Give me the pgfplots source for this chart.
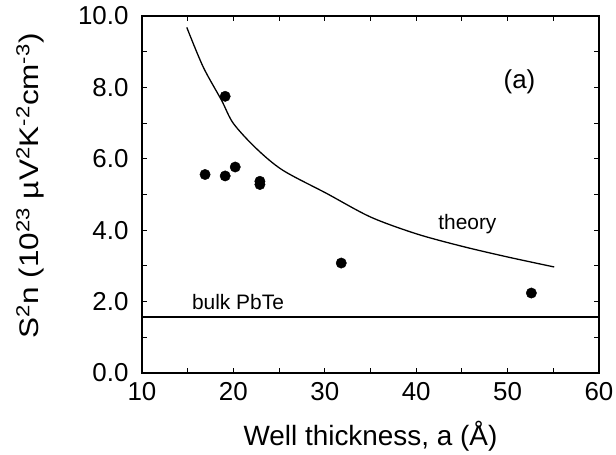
\documentclass[border=0pt]{standalone}
\usepackage{fontspec}
\setmainfont{Liberation Sans}
\usepackage{graphicx}
\usepackage{pgfplots}
\pgfplotsset{compat=1.18}

\begin{document}
\begin{tikzpicture}
\begin{axis}[
    scale only axis,
    width=457bp, height=357bp,
    xmin=10, xmax=60, ymin=0, ymax=10,
    xtick={10,20,...,60}, ytick={0,2,...,10},
    minor x tick num=1, minor y tick num=1,
    tick align=inside,
    major tick length=5bp, minor tick length=5bp,
    every tick/.style={black, line width=1.2pt},
    axis line style={line width=1.4pt},
    /pgf/number format/assume math mode=true,
    tick label style={font=\fontsize{26}{28}\selectfont},
    yticklabel style={/pgf/number format/fixed, /pgf/number format/fixed zerofill,
        /pgf/number format/precision=1, xshift=-10bp},
    xticklabel style={yshift=-6bp},
    xlabel style={font=\fontsize{28}{30}\selectfont,
        at={(axis description cs:0.5,-0.2025)}, anchor=base},
    ylabel style={font=\fontsize{27}{29}\selectfont,
        at={(axis description cs:-0.245,0.524)}, anchor=center},
    xlabel={Well thickness, a (Å)},
    ylabel={\scalebox{1.17}[1]{S\textsuperscript{2}n (10\textsuperscript{23} µV\textsuperscript{2}K\textsuperscript{-2}cm\textsuperscript{-3})}},
    clip=false,
]
% theory curve
\addplot[black, line width=1.3pt, smooth] coordinates {
    (14.9,9.68) (16.7,8.57) (18.7,7.64) (20.0,6.99) (22.5,6.29)
    (25.4,5.68) (30.2,5.03) (35.0,4.37) (40.0,3.90)
    (45.0,3.55) (50.0,3.25) (55.1,2.97)
};
% bulk PbTe
\addplot[black, line width=2pt] coordinates {(10,1.57) (60,1.57)};
% measured
\addplot[only marks, mark=*, mark size=5.2bp, black] coordinates {
    (16.9,5.56) (19.1,7.75) (19.1,5.52) (20.2,5.77)
    (22.9,5.37) (22.9,5.28) (31.8,3.08) (52.6,2.24)
};
\node[font=\fontsize{26}{28}\selectfont] at (axis cs:51.3,8.15) {(a)};
\node[font=\fontsize{21}{23}\selectfont] at (axis cs:45.6,4.17) {theory};
\node[font=\fontsize{21}{23}\selectfont] at (axis cs:20.5,1.99) {bulk PbTe};
\end{axis}
\pgfresetboundingbox
\path (current axis.south west) ++(-142bp,-82bp) coordinate (bbA);
\path (current axis.north east) ++(17bp,16bp) coordinate (bbB);
\path[use as bounding box] (bbA) rectangle (bbB);
\end{tikzpicture}
\end{document}
